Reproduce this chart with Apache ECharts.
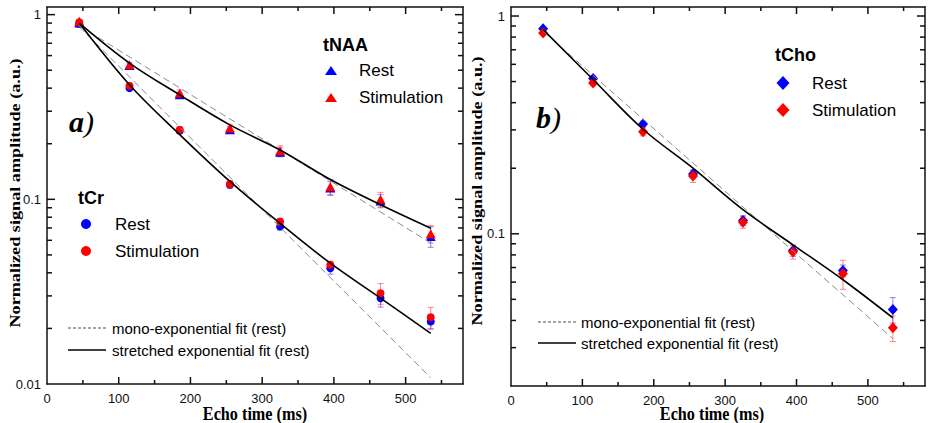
<!DOCTYPE html>
<html><head><meta charset="utf-8">
<script src="https://cdn.jsdelivr.net/npm/echarts@6/dist/echarts.min.js"></script>
<style>html,body{margin:0;padding:0;background:#fff}#c{width:930px;height:423px}</style>
</head><body><div id="c"></div>
<script>
// ---------- data ----------
const echoTimes = [45, 115, 185, 255, 325, 395, 465, 535];

// panel a) tNAA (triangles)
const naaRest = [0.90, 0.53, 0.368, 0.238, 0.180, 0.115, 0.098, 0.063];
const naaStim = [0.92, 0.536, 0.376, 0.243, 0.183, 0.117, 0.100, 0.065];
const naaRestErr = [0.02, 0.015, 0.012, 0.010, 0.010, 0.010, 0.008, 0.008];
const naaStimErr = [0.02, 0.015, 0.015, 0.012, 0.012, 0.011, 0.009, 0.007];
// panel a) tCr (circles)
const crRest = [0.89, 0.400, 0.235, 0.120, 0.0712, 0.0423, 0.0291, 0.0218];
const crStim = [0.91, 0.412, 0.238, 0.121, 0.0758, 0.0442, 0.0310, 0.0230];
const crRestErr = [0.02, 0.012, 0.008, 0.005, 0.003, 0.003, 0.003, 0.002];
const crStimErr = [0.02, 0.012, 0.008, 0.005, 0.003, 0.002, 0.004, 0.003];
// panel a) fits
const monoX = [45, 535];
const naaMono = [0.87, 0.058];
const crMono = [0.86, 0.0108];
const naaStretched = [0.90, 0.547, 0.368, 0.253, 0.185, 0.128, 0.0935, 0.0698];
const crStretched = [0.90, 0.417, 0.224, 0.125, 0.0741, 0.0451, 0.0292, 0.0188];

// panel b) tCho (diamonds)
const choRest = [0.875, 0.517, 0.319, 0.188, 0.115, 0.0838, 0.0679, 0.0449];
const choStim = [0.836, 0.493, 0.294, 0.184, 0.113, 0.0825, 0.0656, 0.0370];
const choRestErr = [0.02, 0.015, 0.010, 0.008, 0.006, 0.005, 0.004, 0.006];
const choStimErr = [0.02, 0.015, 0.012, 0.012, 0.007, 0.006, 0.010, 0.005];
const choMono = [0.85, 0.033];
const choStretched = [0.866, 0.511, 0.302, 0.200, 0.129, 0.089, 0.0615, 0.0411];

// axis ticks
const xMin = 0, xMax = 580, xMajorInterval = 100;
const xMajorTicks = [100, 200, 300, 400, 500];
const xMinorTicks = [50, 150, 250, 350, 450, 550];
const yMajorTicks = [0.01, 0.1, 1];
const yMinorTicks = [0.02,0.03,0.04,0.05,0.06,0.07,0.08,0.09,0.2,0.3,0.4,0.5,0.6,0.7,0.8,0.9];
const yRangeA = [0.01, 1.1];
const yRangeB = [0.02, 1.1];

// ---------- chart ----------
const AX = '#111';
const BLUE = '#0000ff', RED = '#ff0000';
const sans = '"Liberation Sans", Arial, sans-serif';
const serif = '"Liberation Serif", "Times New Roman", serif';

function pts(xs, ys) { return xs.map((x, i) => [x, ys[i]]); }
function errData(vals, errs) { return echoTimes.map((t, i) => [t, vals[i] - errs[i], vals[i] + errs[i]]); }

function errRender(color) {
  return function (params, api) {
    const x = api.value(0);
    const p1 = api.coord([x, api.value(1)]), p2 = api.coord([x, api.value(2)]);
    const w = 3, st = { stroke: color, lineWidth: 1 };
    return { type: 'group', children: [
      { type: 'line', shape: { x1: p1[0], y1: p1[1], x2: p2[0], y2: p2[1] }, style: st },
      { type: 'line', shape: { x1: p1[0] - w, y1: p1[1], x2: p1[0] + w, y2: p1[1] }, style: st },
      { type: 'line', shape: { x1: p2[0] - w, y1: p2[1], x2: p2[0] + w, y2: p2[1] }, style: st }
    ]};
  };
}
// ticks drawn on both sides of the frame, placed through the axis scales
function yTickRender(yr, len) {
  return function (params, api) {
    const v = api.value(1);
    if (v <= yr[0] * 1.001 || v >= yr[1] * 0.999) return null;
    const pl = api.coord([xMin, v]), pr = api.coord([xMax, v]);
    const st = { stroke: AX, lineWidth: 1.5 };
    return { type: 'group', children: [
      { type: 'line', shape: { x1: pl[0], y1: pl[1], x2: pl[0] + len, y2: pl[1] }, style: st },
      { type: 'line', shape: { x1: pr[0], y1: pr[1], x2: pr[0] - len, y2: pr[1] }, style: st }
    ]};
  };
}
function xTickRender(yr, len) {
  return function (params, api) {
    const v = api.value(0);
    const pb = api.coord([v, yr[0]]), pt = api.coord([v, yr[1]]);
    const st = { stroke: AX, lineWidth: 1.5 };
    return { type: 'group', children: [
      { type: 'line', shape: { x1: pb[0], y1: pb[1], x2: pb[0], y2: pb[1] - len }, style: st },
      { type: 'line', shape: { x1: pt[0], y1: pt[1], x2: pt[0], y2: pt[1] + len }, style: st }
    ]};
  };
}
function tickSeries(xi, yr) {
  const mk = (data, fn) => ({ type: 'custom', xAxisIndex: xi, yAxisIndex: xi, data: data, renderItem: fn,
    encode: { x: 0, y: 1 }, z: 100, zlevel: 1, clip: false });
  return [
    mk(yMajorTicks.map(v => [xMin, v]), yTickRender(yr, 8)),
    mk(yMinorTicks.map(v => [xMin, v]), yTickRender(yr, 5)),
    mk(xMajorTicks.map(v => [v, yr[0]]), xTickRender(yr, 7)),
    mk(xMinorTicks.map(v => [v, yr[0]]), xTickRender(yr, 4))
  ];
}

function xAxes(grid) {
  const base = { type: 'value', gridIndex: grid, min: xMin, max: xMax, interval: xMajorInterval,
    axisLine: { show: true, onZero: false, lineStyle: { color: AX, width: 1.5 } },
    axisTick: { show: false }, splitLine: { show: false } };
  return [
    Object.assign({}, base, { position: 'bottom',
      axisLabel: { show: true, margin: 8, showMaxLabel: false, color: AX, fontSize: 13, fontFamily: sans } }),
    Object.assign({}, base, { position: 'top', axisLabel: { show: false } })
  ];
}
function yAxes(grid, yr) {
  const base = { type: 'log', logBase: 10, gridIndex: grid, min: yr[0], max: yr[1],
    axisLine: { show: true, onZero: false, lineStyle: { color: AX, width: 1.5 } },
    axisTick: { show: false }, splitLine: { show: false }, minorTick: { show: false } };
  return [
    Object.assign({}, base, { position: 'left',
      axisLabel: { show: true, margin: 6, showMaxLabel: false, showMinLabel: yr[0] === 0.01, color: AX, fontSize: 13, fontFamily: sans } }),
    Object.assign({}, base, { position: 'right', axisLabel: { show: false } })
  ];
}

function scatter(xi, data, symbol, size, color, z) {
  return { type: 'scatter', xAxisIndex: xi, yAxisIndex: xi, data: data, symbol: symbol, symbolSize: size,
    itemStyle: { color: color, opacity: 1 }, z: z };
}
function err(xi, data, color) {
  return { type: 'custom', xAxisIndex: xi, yAxisIndex: xi, data: data, renderItem: errRender(color),
    encode: { x: 0, y: [1, 2] }, z: 2 };
}
function fitLine(xi, data, dashed, smooth) {
  return { type: 'line', xAxisIndex: xi, yAxisIndex: xi, data: data, showSymbol: false, symbol: 'none',
    smooth: smooth ? 0.35 : false, z: 6,
    lineStyle: dashed ? { color: '#8a8a8a', width: 1, type: [7, 4] } : { color: '#000', width: 1.6 } };
}

const rC = 'rgba(255,40,40,0.55)', bC = 'rgba(40,40,255,0.55)';
const series = [
  // panel a
  ...tickSeries(0, yRangeA),
  err(0, errData(naaRest, naaRestErr), bC),
  err(0, errData(crRest, crRestErr), bC),
  err(0, errData(naaStim, naaStimErr), rC),
  err(0, errData(crStim, crStimErr), rC),
  scatter(0, pts(echoTimes, naaRest), 'triangle', [10, 9], BLUE, 3),
  scatter(0, pts(echoTimes, crRest), 'circle', 8, BLUE, 3),
  scatter(0, pts(echoTimes, naaStim), 'triangle', [10, 9], RED, 4),
  scatter(0, pts(echoTimes, crStim), 'circle', 8, RED, 4),
  fitLine(0, pts(monoX, naaMono), true, false),
  fitLine(0, pts(monoX, crMono), true, false),
  fitLine(0, pts(echoTimes, naaStretched), false, true),
  fitLine(0, pts(echoTimes, crStretched), false, true),
  // panel b (axis index 2)
  ...tickSeries(2, yRangeB),
  err(2, errData(choRest, choRestErr), bC),
  err(2, errData(choStim, choStimErr), rC),
  scatter(2, pts(echoTimes, choRest), 'diamond', [10, 11], BLUE, 3),
  scatter(2, pts(echoTimes, choStim), 'diamond', [10, 11], RED, 4),
  fitLine(2, pts(monoX, choMono), true, false),
  fitLine(2, pts(echoTimes, choStretched), false, true)
];

function txt(x, y, text, font) {
  return { type: 'text', x: x, y: y, z: 10,
    style: { text: text, font: font, fill: '#000', align: 'left', verticalAlign: 'middle' } };
}
function title(x, y, text, font, rot, sx) {
  return { type: 'text', x: x, y: y, z: 10, rotation: rot, scaleX: sx,
    style: { text: text, font: font, fill: '#000', align: 'center', verticalAlign: 'middle' } };
}
function legendLine(x, y, dashed) {
  return { type: 'line', z: 10, shape: { x1: x, y1: y, x2: x + 38, y2: y },
    style: dashed ? { stroke: '#222', lineWidth: 0.8, lineDash: [3, 2] } : { stroke: '#000', lineWidth: 1.5 } };
}
function tri(x, y, color) {
  return { type: 'polygon', x: x, y: y, z: 10, shape: { points: [[0, -5], [6, 4], [-6, 4]] }, style: { fill: color } };
}
function dot(x, y, color) {
  return { type: 'circle', x: x, y: y, z: 10, shape: { cx: 0, cy: 0, r: 5 }, style: { fill: color } };
}
function dia(x, y, color) {
  return { type: 'polygon', x: x, y: y, z: 10, shape: { points: [[0, -7], [6.5, 0], [0, 7], [-6.5, 0]] }, style: { fill: color } };
}

const yTitle = 'Normalized signal amplitude (a.u.)';
const xTitle = 'Echo time (ms)';
const graphic = [
  title(16, 193, yTitle, 'bold 14px ' + serif, Math.PI / 2, 1.3),
  title(478, 191, yTitle, 'bold 14px ' + serif, Math.PI / 2, 1.3),
  title(255, 414, xTitle, 'bold 18px ' + serif, 0, 0.9),
  title(712, 414, xTitle, 'bold 18px ' + serif, 0, 0.9),
  // panel labels
  { type: 'text', x: 69, y: 121, z: 10, style: { text: '{a|a}{p|)}', verticalAlign: 'middle', align: 'left',
    rich: { a: { font: 'italic bold 30px ' + serif, fill: '#000' }, p: { font: 'italic 30px ' + serif, fill: '#000' } } } },
  { type: 'text', x: 536, y: 117, z: 10, style: { text: '{a|b}{p|)}', verticalAlign: 'middle', align: 'left',
    rich: { a: { font: 'italic bold 30px ' + serif, fill: '#000' }, p: { font: 'italic 30px ' + serif, fill: '#000' } } } },
  // tNAA legend
  txt(323, 45, 'tNAA', 'bold 18px ' + sans),
  tri(331, 71, BLUE), txt(359, 70, 'Rest', '17px ' + sans),
  tri(331, 98, RED), txt(359, 97, 'Stimulation', '17px ' + sans),
  // tCr legend
  txt(78, 198, 'tCr', 'bold 18px ' + sans),
  dot(86, 224, BLUE), txt(115, 224, 'Rest', '17px ' + sans),
  dot(86, 251, RED), txt(115, 251, 'Stimulation', '17px ' + sans),
  // tCho legend
  txt(775, 55, 'tCho', 'bold 18px ' + sans),
  dia(783, 83, BLUE), txt(812, 83, 'Rest', '17px ' + sans),
  dia(783, 110, RED), txt(812, 110, 'Stimulation', '17px ' + sans),
  // fit legends
  legendLine(68, 328, true), txt(112, 328, 'mono-exponential fit (rest)', '15px ' + sans),
  legendLine(68, 350, false), txt(112, 350, 'stretched exponential fit (rest)', '15px ' + sans),
  legendLine(538, 322, true), txt(581, 322, 'mono-exponential fit (rest)', '15px ' + sans),
  legendLine(538, 343, false), txt(581, 343, 'stretched exponential fit (rest)', '15px ' + sans)
];

const chart = echarts.init(document.getElementById('c'), null, { renderer: 'svg' });
chart.setOption({
  animation: false,
  grid: [
    { left: 47, top: 7, width: 416, height: 377 },
    { left: 511, top: 7, width: 414, height: 379 }
  ],
  xAxis: [...xAxes(0), ...xAxes(1)],
  yAxis: [...yAxes(0, yRangeA), ...yAxes(1, yRangeB)],
  series: series,
  graphic: graphic
});
</script></body></html>
